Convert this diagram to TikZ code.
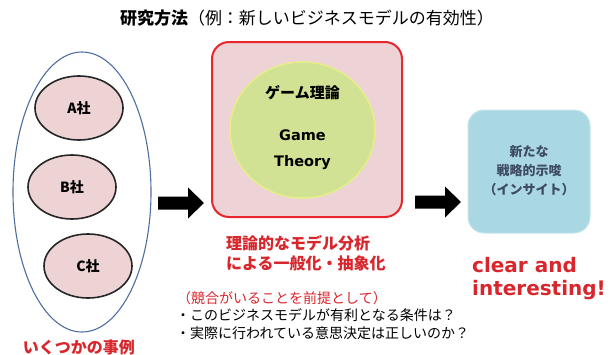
\documentclass[tikz,border=0pt]{standalone}
\usepackage{fontspec}
\setmainfont{Noto Sans CJK JP}
\newfontfamily\latinsans{DejaVu Sans}
\usetikzlibrary{shapes.geometric}

\definecolor{labelred}{HTML}{D7262C}
\definecolor{casepink}{HTML}{EDD3D4}
\definecolor{groupblue}{HTML}{4E6E9E}
\definecolor{theorypink}{HTML}{EED3D6}
\definecolor{theoryred}{HTML}{E8262B}
\definecolor{theorygreen}{HTML}{D2E294}
\definecolor{theoryrim}{HTML}{E6EE86}
\definecolor{insightblue}{HTML}{A9D8E3}
\definecolor{insightrim}{HTML}{C4E4EC}
\definecolor{insighttext}{HTML}{3E4B63}

\tikzset{
  casebox/.style={ellipse, draw=black!85, line width=1.6pt, fill=casepink,
      minimum width=88, minimum height=64, inner sep=0pt,
      font=\bfseries\fontsize{14}{16}\selectfont},
  redlabel/.style={text=labelred, inner sep=0pt,
      font=\bfseries\fontsize{16}{20}\selectfont},
  plainlabel/.style={inner sep=0pt, font=\fontsize{14}{18.5}\selectfont}
}

\begin{document}
\begin{tikzpicture}[x=1pt,y=-1pt]
    \useasboundingbox (0,0) rectangle (614,354);

    % title
    \node[inner sep=0pt, font=\fontsize{17}{20}\selectfont] (title) at (307,18)
      {{\bfseries 研究方法}（例：新しいビジネスモデルの有効性）};

    % cases
    \node[ellipse, draw=groupblue, line width=1.1pt, minimum width=138,
      minimum height=280, inner sep=0pt] (cases) at (82,192) {};
    \node[casebox] (caseA) at (79,108) {A社};
    \node[casebox] (caseB) at (72,187) {B社};
    \node[casebox] (caseC) at (88,266) {C社};
    \node[redlabel] (caselabel) at (79,347) {いくつかの事例};

    % theory
    \node[draw=theoryred, fill=theorypink, line width=2pt, rounded corners=17,
      minimum width=190, minimum height=175] (theorybox) at (307,129.5) {};
    \node[ellipse, draw=theoryrim, line width=1.5pt, fill=theorygreen,
      minimum width=145, minimum height=136] (theory) at (302.5,130) {};
    \node[inner sep=0pt, font=\bfseries\fontsize{15}{18}\selectfont]
      (theoryjp) at (302.5,93) {ゲーム理論};
    \node[inner sep=0pt, align=center, font=\latinsans\bfseries\fontsize{14.5}{26}\selectfont]
      (theoryen) at (302.5,150) {Game\\Theory};

    \node[redlabel, align=left, anchor=west] (generalize) at (226,253)
      {理論的なモデル分析\\による一般化・抽象化};
    \node[plainlabel, text=labelred, anchor=west] (premise) at (177,298)
      {（競合がいることを前提として）};
    \node[plainlabel, align=left, anchor=north west] (questions) at (176,308)
      {・このビジネスモデルが有利となる条件は？\\・実際に行われている意思決定は正しいのか？};

    % insight
    \node[draw=insightrim, fill=insightblue, line width=1pt, rounded corners=16,
      minimum width=122, minimum height=123] (insight) at (529,171.5) {};
    \node[inner sep=0pt, align=center, text=insighttext,
      font=\bfseries\fontsize{13}{19}\selectfont] (insighttxt) at (529,171)
      {新たな\\戦略的示唆\\（インサイト）};
    \node[inner sep=0pt, align=left, anchor=west, text=labelred,
      font=\latinsans\bfseries\fontsize{20}{23}\selectfont] (clear) at (472,278.5)
      {clear and\\interesting!};

    % block arrows
    \foreach \x/\y in {158/203,415/202} {
        \fill[black] (\x,\y-6.5) -- (\x+30,\y-6.5) -- (\x+30,\y-15.5) -- (\x+46,\y)
          -- (\x+30,\y+15.5) -- (\x+30,\y+6.5) -- (\x,\y+6.5) -- cycle;
      }
  \end{tikzpicture}
\end{document}
